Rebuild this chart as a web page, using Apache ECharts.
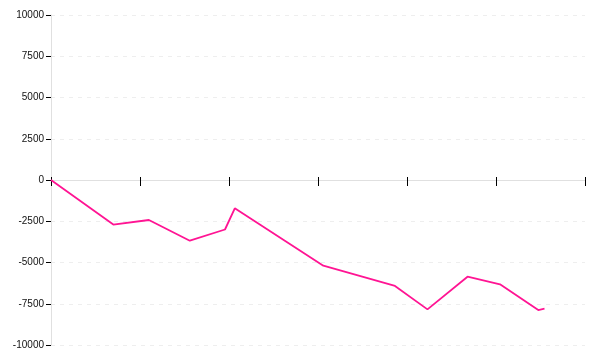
<!DOCTYPE html>
<html>
<head>
<meta charset="utf-8">
<script src="https://cdn.jsdelivr.net/npm/echarts@6/dist/echarts.min.js"></script>
<style>html,body{margin:0;padding:0;background:#fff}#c{width:600px;height:360px}</style>
</head>
<body>
<div id="c"></div>
<script>
var xValues = [0, 0.70, 1.10, 1.56, 1.955, 2.065, 3.06, 3.865, 4.23, 4.68, 5.045, 5.475, 5.545];
var yValues = [0, -2700, -2424, -3680, -3000, -1715, -5190, -6420, -7840, -5860, -6320, -7880, -7800];
var yTicks = [-10000, -7500, -5000, -2500, 0, 2500, 5000, 7500, 10000];

var points = xValues.map(function (x, i) { return [x, yValues[i]]; });
var chart = echarts.init(document.getElementById('c'), null, {renderer: 'canvas'});
var gray = '#e0e0e0';
var gridBox = {left: 51, right: 15, top: 15, bottom: 15, containLabel: false};
function xAx(idx, inside, len) {
  return {
    gridIndex: idx, type: 'value', min: 0, max: 6, interval: 1,
    axisLabel: {show: false},
    splitLine: {show: false},
    axisLine: {show: true, onZero: true, lineStyle: {color: gray, width: 1}},
    axisTick: {show: true, inside: inside, length: len, lineStyle: {color: '#000', width: 1}}
  };
}
chart.setOption({
  animation: false,
  backgroundColor: '#fff',
  grid: [gridBox, gridBox],
  xAxis: [xAx(0, false, 6), xAx(1, true, 3)],
  yAxis: [{
    gridIndex: 0,
    type: 'value', min: yTicks[0], max: yTicks[yTicks.length - 1], interval: 2500,
    axisLine: {show: true, onZero: false, lineStyle: {color: gray, width: 1}},
    axisTick: {show: true, length: 5, lineStyle: {color: '#000', width: 1}},
    axisLabel: {margin: 7, color: '#111', fontFamily: 'Liberation Sans', fontSize: 10,
      formatter: function (v) { return String(v); }},
    splitLine: {show: true, lineStyle: {color: '#eeeeee', type: [4, 5], width: 1}}
  }, {
    gridIndex: 1,
    type: 'value', min: yTicks[0], max: yTicks[yTicks.length - 1], interval: 2500,
    show: false
  }],
  series: [{
    type: 'line', xAxisIndex: 0, yAxisIndex: 0, data: points,
    showSymbol: false, symbol: 'none',
    lineStyle: {color: '#ff1493', width: 1.8},
    itemStyle: {color: '#ff1493'}
  }]
});
</script>
</body>
</html>
